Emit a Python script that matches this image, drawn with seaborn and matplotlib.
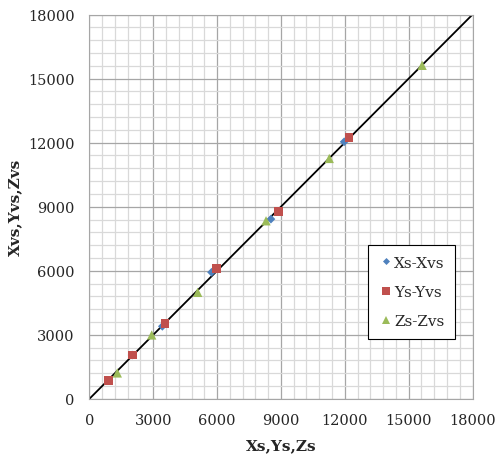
import matplotlib
matplotlib.use("Agg")
import matplotlib.pyplot as plt
from matplotlib.ticker import MultipleLocator
import seaborn as sns
import pandas as pd

# measured vs. calculated values
xs = [890, 2010, 3430, 5740, 8530, 11970]
xvs = [860, 2055, 3400, 5930, 8420, 12040]
ys = [890, 2020, 3555, 5980, 8890, 12200]
yvs = [860, 2060, 3540, 6115, 8770, 12250]
zs = [1315, 2930, 5090, 8300, 11270, 15630]
zvs = [1217, 2995, 4990, 8340, 11260, 15620]
diag = [0, 18000]

series_names = ["Xs-Xvs", "Ys-Yvs", "Zs-Zvs"]
colors = ["#4F81BD", "#C0504D", "#9BBB59"]
markers = ["D", "s", "^"]
marker_sizes = [20, 40, 45]

df = pd.concat([
    pd.DataFrame({"s": xs, "vs": xvs, "series": series_names[0]}),
    pd.DataFrame({"s": ys, "vs": yvs, "series": series_names[1]}),
    pd.DataFrame({"s": zs, "vs": zvs, "series": series_names[2]}),
])

sns.set_style("white")
plt.rcParams["font.family"] = ["DejaVu Serif"]

fig = plt.figure(figsize=(4.99, 4.56), dpi=100)
ax = fig.add_axes([0.179, 0.123, 0.768, 0.843])

sns.lineplot(x=diag, y=diag, color="black", linewidth=1.3, ax=ax, zorder=2)
sns.scatterplot(data=df, x="s", y="vs", hue="series", style="series", size="series",
                palette=dict(zip(series_names, colors)),
                markers=dict(zip(series_names, markers)),
                sizes=dict(zip(series_names, marker_sizes)),
                edgecolor="none", ax=ax, zorder=3)

ax.set_xlim(0, 18000)
ax.set_ylim(0, 18000)
ax.xaxis.set_major_locator(MultipleLocator(3000))
ax.yaxis.set_major_locator(MultipleLocator(3000))
ax.xaxis.set_minor_locator(MultipleLocator(600))
ax.yaxis.set_minor_locator(MultipleLocator(600))
ax.grid(which="major", color="#a6a6a6", linewidth=0.9)
ax.grid(which="minor", color="#d9d9d9", linewidth=0.9)
ax.set_axisbelow(True)
for sp in ax.spines.values():
    sp.set_color("#a6a6a6")
ax.tick_params(which="major", length=4.5, color="#a6a6a6", labelsize=10.5, pad=6)
ax.tick_params(which="minor", length=0)

ax.set_xlabel("Xs,Ys,Zs", fontsize=11, fontweight="bold", labelpad=8)
ax.set_ylabel("Xvs,Yvs,Zvs", fontsize=11, fontweight="bold", labelpad=4)

leg = ax.legend(loc="upper left", bbox_to_anchor=(0.727, 0.40), frameon=True,
                fancybox=False, edgecolor="black", fontsize=11, framealpha=1,
                handletextpad=0.0, handlelength=1.0, labelspacing=1.0,
                borderpad=0.7, borderaxespad=0, title=None, markerscale=0.8)
leg.get_frame().set_linewidth(0.8)

plt.savefig("out.png", dpi=100)
